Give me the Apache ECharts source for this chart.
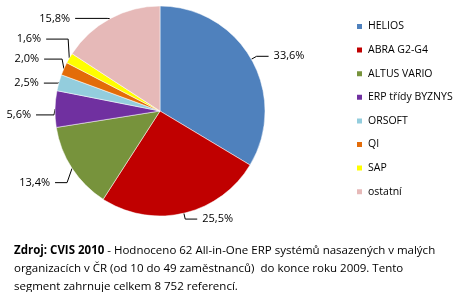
<!DOCTYPE html>
<html><head><meta charset="utf-8">
<script src="https://cdn.jsdelivr.net/npm/echarts@6/dist/echarts.min.js"></script>
<style>html,body{margin:0;padding:0;background:#fff}#c{width:467px;height:292px}</style>
</head><body><div id="c"></div>
<script>
const categories = ["HELIOS","ABRA G2-G4","ALTUS VARIO","ERP třídy BYZNYS","ORSOFT","QI","SAP","ostatní"];
const values = [33.6,25.5,13.4,5.6,2.5,2.0,1.6,15.8];
const colors = ["#4F81BD","#C00000","#77933C","#7030A0","#93CDDD","#E36C09","#FFFF00","#E6B9B8"];
// label nudges (annotation placement only)
const labelDx = [0,0,0,-6,-2,-6,-10,-20];
const labelDy = [0,0,11,6,2,-9,-16,5];
const font = "'Open Sans', 'DejaVu Sans', sans-serif";
const chart = echarts.init(document.getElementById('c'));
chart.setOption({
  animation:false,
  color: colors,
  legend:{
    orient:'vertical', left:350, top:16, itemWidth:7, itemHeight:7, itemGap:12.6,
    icon:'rect',
    textStyle:{fontFamily:font, fontSize:10.5, color:'#000'},
    data: categories
  },
  series:[{
    type:'pie', center:[160,111], radius:[0,105], startAngle:90, clockwise:true,
    data: categories.map((n,i)=>({name:n, value:values[i]})),
    itemStyle:{borderColor:'#fff', borderWidth:0.5},
    label:{show:true, position:'outside', fontFamily:font, fontSize:11, color:'#000', overflow:'none',
      formatter:p=>p.value.toFixed(1).replace('.',',')+'%'},
    labelLine:{show:true, length:6, length2:12, lineStyle:{color:'#000', width:1}},
    avoidLabelOverlap:true,
    labelLayout:function(p){
      const i=p.dataIndex, dx=labelDx[i], dy=labelDy[i];
      const r=p.labelRect;
      const right = p.align==='right';
      const pts=p.labelLinePoints;
      const out={
        x:(right? r.x+r.width : r.x)+dx,
        y:r.y+r.height/2+dy,
        align:right?'right':'left', verticalAlign:'middle'
      };
      if(pts && pts.length===3){
        out.labelLinePoints=[[pts[0][0],pts[0][1]],[pts[1][0],pts[1][1]+dy],[pts[2][0]+dx,pts[2][1]+dy]];
      }
      return out;
    }
  }],
  graphic:[{
    type:'text', left:14, top:242,
    style:{
      text:'{b|Zdroj: CVIS 2010} - Hodnoceno 62 All-in-One ERP systémů nasazených v malých\norganizacích v ČR (od 10 do 49 zaměstnanců)  do konce roku 2009. Tento\nsegment zahrnuje celkem 8 752 referencí.',
      fontSize:11.5, fontFamily:font, fill:'#000', lineHeight:18,
      rich:{b:{fontWeight:'bold', fontSize:11.5, fontFamily:font, lineHeight:18}}
    }
  }]
});
</script></body></html>
